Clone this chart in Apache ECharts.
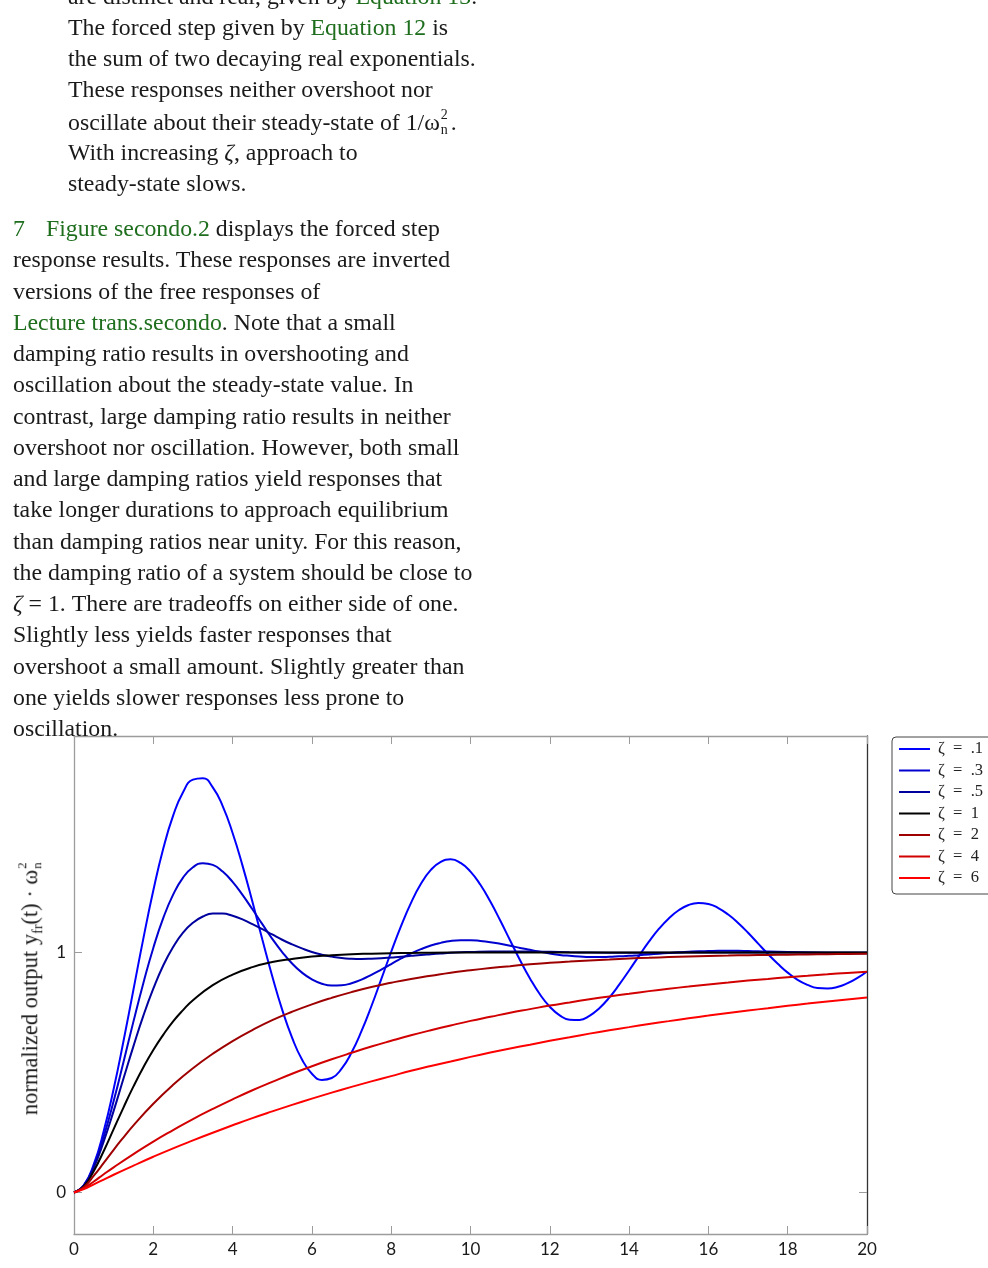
<!DOCTYPE html>
<html>
<head>
<meta charset="utf-8">
<script src="https://cdn.jsdelivr.net/npm/echarts@6/dist/echarts.min.js"></script>
<style>
  html, body { margin:0; padding:0; width:988px; height:1268px; overflow:hidden; background:#fff; }
  #chart { position:absolute; left:0; top:0; width:988px; height:1268px; }
  .p { position:absolute; font-family:'Liberation Serif', serif; font-size:23.8px; line-height:31.25px; color:#1a1a1a; white-space:nowrap; }
  .p div { height:31.25px; }
  .g { color:#1e6e1e; }
  .ss { display:inline-block; position:relative; width:11px; height:23.8px; }
  .ss .sp, .ss .sb { position:absolute; left:1px; font-size:14px; line-height:14px; }
  .ss .sp { top:2px; }
  .ss .sb { top:17px; }
  #ytitle { position:absolute; left:30px; top:987px; transform:translate(-50%,-50%) rotate(-90deg); white-space:nowrap;
            font-family:'Liberation Serif', serif; font-size:22.5px; line-height:26px; color:#1a1a1a; }
  #ytitle .ss { width:11px; height:22.5px; }
  #ytitle .ss .sp, #ytitle .ss .sb { font-size:13px; line-height:13px; }
  #ytitle .ss .sp { top:1px; }
  #ytitle .ss .sb { top:16px; }
  .sub { font-size:14px; position:relative; top:5px; }
</style>
</head>
<body>
<div id="chart"></div>

<div class="p" style="left:68px; top:-19.5px;">
  <div>are distinct and real, given by <span class="g">Equation 13</span>.</div>
  <div>The forced step given by <span class="g">Equation 12</span> is</div>
  <div>the sum of two decaying real exponentials.</div>
  <div>These responses neither overshoot nor</div>
  <div>oscillate about their steady-state of 1/ω<span class="ss"><span class="sp">2</span><span class="sb">n</span></span>.</div>
  <div>With increasing <i>ζ</i>, approach to</div>
  <div>steady-state slows.</div>
</div>

<div class="p" style="left:13px; top:213px;">
  <div><span class="g" style="display:inline-block; width:33px;">7</span><span class="g">Figure secondo.2</span> displays the forced step</div>
  <div>response results. These responses are inverted</div>
  <div>versions of the free responses of</div>
  <div><span class="g">Lecture trans.secondo</span>. Note that a small</div>
  <div>damping ratio results in overshooting and</div>
  <div>oscillation about the steady-state value. In</div>
  <div>contrast, large damping ratio results in neither</div>
  <div>overshoot nor oscillation. However, both small</div>
  <div>and large damping ratios yield responses that</div>
  <div>take longer durations to approach equilibrium</div>
  <div>than damping ratios near unity. For this reason,</div>
  <div>the damping ratio of a system should be close to</div>
  <div><i>ζ</i> = 1. There are tradeoffs on either side of one.</div>
  <div>Slightly less yields faster responses that</div>
  <div>overshoot a small amount. Slightly greater than</div>
  <div>one yields slower responses less prone to</div>
  <div>oscillation.</div>
</div>

<div id="ytitle">normalized output y<span class="sub">fr</span>(t) · ω<span class="ss"><span class="sp">2</span><span class="sb">n</span></span></div>

<script>
// ---- data: [t, normalized output] ----
const zeta01 = [[0,0],[0.25,0.031],[0.5,0.118],[0.75,0.256],[1,0.431],[1.25,0.632],[1.5,0.846],[1.75,1.059],[2,1.258],
  [2.25,1.432],[2.5,1.570],[2.75,1.668],[3,1.720],[3.25,1.726],[3.5,1.688],[3.75,1.610],[4,1.498],[4.25,1.362],[4.5,1.211],
  [4.75,1.054],[5,0.901],[5.25,0.762],[5.5,0.645],[5.75,0.554],[6,0.495],[6.25,0.469],[6.5,0.477],[6.75,0.516],[7,0.583],
  [7.25,0.672],[7.5,0.776],[7.75,0.889],[8,1.003],[8.25,1.111],[8.5,1.207],[8.75,1.286],[9,1.344],[9.25,1.378],[9.5,1.388],
  [9.75,1.373],[10,1.337],[10.25,1.282],[10.5,1.212],[10.75,1.133],[11,1.050],[11.25,0.968],[11.5,0.892],[11.75,0.826],
  [12,0.774],[12.25,0.738],[12.5,0.720],[12.75,0.719],[13,0.736],[13.25,0.768],[13.5,0.812],[13.75,0.866],[14,0.925],
  [14.25,0.986],[14.5,1.045],[14.75,1.098],[15,1.142],[15.25,1.176],[15.5,1.198],[15.75,1.206],[16,1.202],[16.25,1.185],
  [16.5,1.158],[16.75,1.123],[17,1.082],[17.25,1.038],[17.5,0.994],[17.75,0.953],[18,0.916],[18.25,0.886],[18.5,0.865],
  [18.75,0.852],[19,0.850],[19.25,0.856],[19.5,0.871],[19.75,0.893],[20,0.921]];
const zeta03 = [[0,0],[0.25,0.030],[0.5,0.111],[0.75,0.233],[1,0.381],[1.25,0.545],[1.5,0.713],[1.75,0.873],[2,1.019],
  [2.25,1.143],[2.5,1.241],[2.75,1.312],[3,1.355],[3.25,1.372],[3.5,1.365],[3.75,1.337],[4,1.294],[4.25,1.240],[4.5,1.180],
  [4.75,1.118],[5,1.057],[5.25,1.002],[5.5,0.954],[5.75,0.916],[6,0.888],[6.25,0.870],[6.5,0.862],[6.75,0.863],[7,0.872],
  [7.25,0.887],[7.5,0.907],[7.75,0.929],[8,0.952],[8.25,0.975],[8.5,0.996],[8.75,1.014],[9,1.029],[9.25,1.040],[9.5,1.048],
  [9.75,1.051],[10,1.051],[10.25,1.048],[10.5,1.043],[10.75,1.036],[11,1.028],[11.25,1.019],[11.5,1.011],[11.75,1.003],
  [12,0.996],[12.25,0.990],[12.5,0.986],[12.75,0.983],[13,0.981],[13.25,0.981],[13.5,0.982],[13.75,0.984],[14,0.986],
  [14.25,0.989],[14.5,0.992],[14.75,0.995],[15,0.998],[15.25,1.001],[15.5,1.003],[15.75,1.005],[16,1.006],[16.25,1.007],
  [16.5,1.007],[16.75,1.007],[17,1.006],[17.25,1.005],[17.5,1.004],[18,1.002],[18.5,1.000],[19,0.998],[19.5,0.997],[20,0.997]];
const zeta05 = [[0,0],[0.25,0.029],[0.5,0.104],[0.75,0.213],[1,0.340],[1.25,0.476],[1.5,0.610],[1.75,0.737],[2,0.849],
  [2.25,0.946],[2.5,1.023],[2.75,1.083],[3,1.124],[3.25,1.150],[3.5,1.162],[3.75,1.162],[4,1.153],[4.25,1.138],[4.5,1.118],
  [4.75,1.097],[5,1.075],[5.25,1.053],[5.5,1.034],[5.75,1.017],[6,1.002],[6.25,0.991],[6.5,0.983],[6.75,0.977],[7,0.974],
  [7.25,0.973],[7.5,0.974],[7.75,0.976],[8,0.979],[8.25,0.982],[8.5,0.986],[8.75,0.990],[9,0.993],[9.25,0.996],[9.5,0.999],
  [9.75,1.001],[10,1.002],[10.5,1.004],[11,1.004],[11.5,1.004],[12,1.003],[12.5,1.001],[13,1.000],[14,0.999],[15,0.999],
  [16,1.000],[18,1.000],[20,1.000]];
const zeta1 = [[0,0],[0.25,0.026],[0.5,0.090],[0.75,0.173],[1,0.264],[1.25,0.355],[1.5,0.442],[1.75,0.522],[2,0.594],
  [2.25,0.657],[2.5,0.713],[2.75,0.760],[3,0.801],[3.5,0.864],[4,0.908],[4.5,0.939],[5,0.960],[5.5,0.973],[6,0.983],
  [6.5,0.989],[7,0.993],[7.5,0.995],[8,0.997],[8.5,0.998],[9,0.999],[10,1.000],[12,1.000],[14,1.000],[16,1.000],
  [18,1.000],[20,1.000]];
const zeta2 = [[0,0],[0.25,0.023],[0.5,0.070],[0.75,0.123],[1,0.178],[1.25,0.230],[1.5,0.280],[2,0.370],[2.5,0.449],
  [3,0.518],[3.5,0.578],[4,0.631],[4.5,0.677],[5,0.718],[5.5,0.753],[6,0.784],[6.5,0.811],[7,0.835],[7.5,0.856],
  [8,0.874],[8.5,0.890],[9,0.903],[9.5,0.916],[10,0.926],[10.5,0.935],[11,0.943],[11.5,0.951],[12,0.957],[12.5,0.962],
  [13,0.967],[13.5,0.971],[14,0.975],[14.5,0.978],[15,0.981],[15.5,0.983],[16,0.985],[16.5,0.987],[17,0.989],[17.5,0.990],
  [18,0.991],[18.5,0.992],[19,0.993],[19.5,0.994],[20,0.995]];
const zeta4 = [[0,0],[0.25,0.018],[0.5,0.046],[0.75,0.076],[1,0.105],[1.5,0.160],[2,0.212],[2.5,0.260],[3,0.306],
  [3.5,0.348],[4,0.388],[4.5,0.426],[5,0.461],[5.5,0.495],[6,0.526],[6.5,0.555],[7,0.582],[7.5,0.608],[8,0.632],
  [8.5,0.655],[9,0.676],[9.5,0.696],[10,0.715],[10.5,0.732],[11,0.749],[11.5,0.764],[12,0.779],[12.5,0.792],[13,0.805],
  [13.5,0.817],[14,0.828],[14.5,0.839],[15,0.849],[15.5,0.858],[16,0.867],[16.5,0.875],[17,0.883],[17.5,0.890],[18,0.897],
  [18.5,0.903],[19,0.909],[19.5,0.915],[20,0.920]];
const zeta6 = [[0,0],[0.25,0.014],[0.5,0.034],[0.75,0.054],[1,0.074],[1.5,0.112],[2,0.149],[2.5,0.184],[3,0.217],
  [3.5,0.249],[4,0.280],[4.5,0.310],[5,0.338],[5.5,0.365],[6,0.391],[6.5,0.416],[7,0.440],[7.5,0.463],[8,0.485],
  [8.5,0.507],[9,0.527],[9.5,0.546],[10,0.565],[10.5,0.583],[11,0.600],[11.5,0.616],[12,0.632],[12.5,0.647],[13,0.662],
  [13.5,0.676],[14,0.689],[14.5,0.702],[15,0.714],[15.5,0.726],[16,0.737],[16.5,0.748],[17,0.758],[17.5,0.768],[18,0.778],
  [18.5,0.787],[19,0.796],[19.5,0.804],[20,0.812]];

const seriesNames = ['ζ = .1', 'ζ = .3', 'ζ = .5', 'ζ = 1', 'ζ = 2', 'ζ = 4', 'ζ = 6'];
const seriesValues = [zeta01, zeta03, zeta05, zeta1, zeta2, zeta4, zeta6];
const yTickValues = [0, 1];

// ---- styles ----
const colors = ['#0000ff', '#0000d0', '#00009e', '#000000', '#9e0000', '#d20000', '#ff0000'];
const labelFont = 'Lato, "Open Sans", sans-serif';
const axisGray = '#9c9c9c';

const chart = echarts.init(document.getElementById('chart'), null, { renderer: 'canvas' });

const series = seriesNames.map((name, k) => ({
  name: name,
  type: 'line',
  xAxisIndex: 0,
  yAxisIndex: 0,
  data: seriesValues[k],
  smooth: 0.5,
  symbol: 'none',
  showSymbol: false,
  lineStyle: { color: colors[k], width: 2 },
  itemStyle: { color: colors[k] },
  emphasis: { disabled: true },
  animation: false
}));

const yMin = -0.1729, yMax = 1.902;

chart.setOption({
  backgroundColor: 'transparent',
  animation: false,
  grid: { left: 74, top: 736, width: 793, height: 498, containLabel: false, outerBoundsMode: 'none' },
  legend: {
    orient: 'vertical',
    left: 892,
    top: 737,
    icon: 'rect',
    itemWidth: 31,
    itemHeight: 2,
    itemGap: 4.5,
    padding: [3.5, 60, 7.5, 7],
    borderColor: '#444',
    borderWidth: 1,
    borderRadius: 4,
    backgroundColor: '#fff',
    formatter: name => name.replace(/ = /, '\u2002=\u2002'),
    textStyle: { fontFamily: '"Liberation Serif", serif', fontSize: 16.5, lineHeight: 17, color: '#222', padding: [0, 0, 0, 3] },
    data: seriesNames
  },
  xAxis: [
    {
      type: 'value', min: 0, max: 20, interval: 2, position: 'bottom',
      axisLine: { show: true, onZero: false, lineStyle: { color: axisGray, width: 1.3 } },
      axisTick: { show: true, inside: true, length: 8, lineStyle: { color: axisGray, width: 1 } },
      axisLabel: { show: true, margin: 7, fontFamily: labelFont, fontSize: 17, color: '#1a1a1a' },
      splitLine: { show: false }
    },
    {
      type: 'value', min: 0, max: 20, interval: 2, position: 'top',
      axisLine: { show: true, onZero: false, lineStyle: { color: axisGray, width: 1.3 } },
      axisTick: { show: true, inside: true, length: 8, lineStyle: { color: axisGray, width: 1 } },
      axisLabel: { show: false },
      splitLine: { show: false }
    }
  ],
  yAxis: [
    {
      type: 'value', min: yMin, max: yMax, position: 'left',
      axisLine: { show: true, onZero: false, lineStyle: { color: axisGray, width: 1.3 } },
      axisTick: { show: true, inside: true, length: 8, customValues: yTickValues, lineStyle: { color: axisGray, width: 1 } },
      axisLabel: { show: true, margin: 8, customValues: yTickValues, fontFamily: labelFont, fontSize: 17, color: '#1a1a1a' },
      splitLine: { show: false }
    },
    {
      type: 'value', min: yMin, max: yMax, position: 'right',
      axisLine: { show: true, onZero: false, lineStyle: { color: '#333', width: 1.3 } },
      axisTick: { show: true, inside: true, length: 8, customValues: yTickValues, lineStyle: { color: axisGray, width: 1 } },
      axisLabel: { show: false, customValues: yTickValues },
      splitLine: { show: false }
    }
  ],
  series: series
});
</script>
</body>
</html>
